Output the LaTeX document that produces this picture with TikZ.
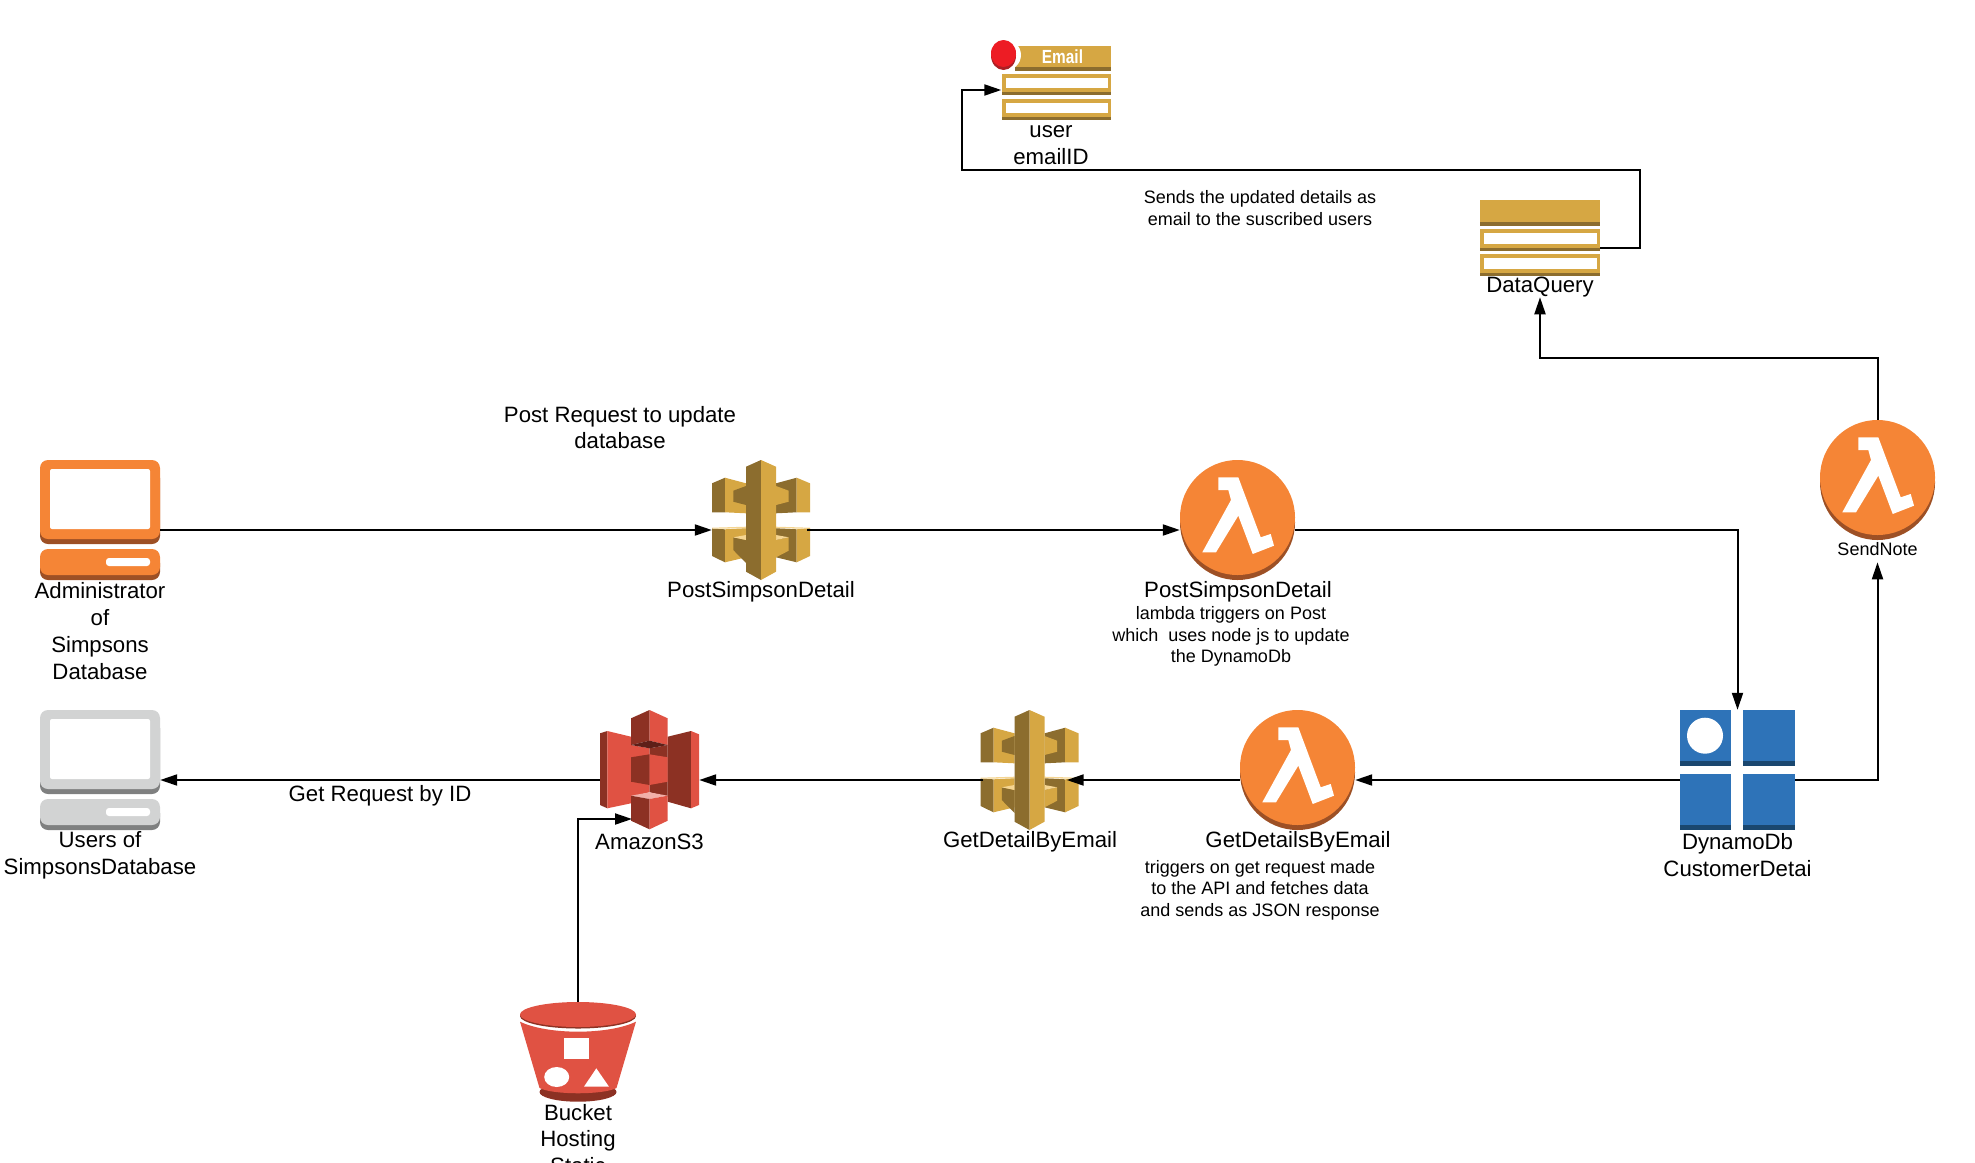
\documentclass[tikz,border=0pt]{standalone}
\usepackage{fontspec}
\setmainfont{Liberation Sans}
\usetikzlibrary{arrows.meta}

\definecolor{pcorange}{HTML}{F58536}
\definecolor{pcorangedark}{HTML}{9D5025}
\definecolor{pcgrey}{HTML}{D2D3D3}
\definecolor{pcgreydark}{HTML}{7F8080}
\definecolor{gold}{HTML}{D6A743}
\definecolor{golddark}{HTML}{8C6D2E}
\definecolor{goldpale}{HTML}{F5D592}
\definecolor{s3light}{HTML}{E05243}
\definecolor{s3dark}{HTML}{8C3123}
\definecolor{s3darker}{HTML}{5E1F18}
\definecolor{s3pale}{HTML}{F2B0A9}
\definecolor{dynamoblue}{HTML}{2E73B8}
\definecolor{dynamodark}{HTML}{1A476F}
\definecolor{dotred}{HTML}{ED1C24}
\definecolor{dotreddark}{HTML}{AD1F24}

\tikzset{
  bigtext/.style={font=\fontsize{22.2}{26.8}\selectfont, align=center, inner sep=0pt},
  smalltext/.style={font=\fontsize{18}{21.5}\selectfont, align=center, inner sep=0pt},
  iconbox/.style={inner sep=0pt, minimum width=#1},
  flowline/.style={line width=2pt, -{Triangle[length=17pt,width=11pt]}},
  pics/pcicon/.style n args={2}{code={
    \fill[#2, rounded corners=8pt] (-60,-50) rectangle (60,24);
    \fill[#1, rounded corners=8pt] (-60,-60) rectangle (60,19);
    \fill[white, rounded corners=2pt] (-50,-51) rectangle (50,9);
    \fill[#2, rounded corners=8pt] (-60,35) rectangle (60,60);
    \fill[#1, rounded corners=8pt] (-60,29) rectangle (60,55);
    \fill[white, rounded corners=3pt] (6,38) rectangle (50,46);
  }},
  pics/lambdaicon/.style={code={
    \fill[pcorangedark] (0,2.5) circle (57.5pt);
    \fill[pcorange] (0,-2.5) circle (57.5pt);
    \fill[white] (-19.2,-42.7) -- (0.8,-42.7) -- (23.2,17.3) -- (33.2,14) -- (36.5,25.7) -- (15.2,34)
      -- (0.8,-4.3) -- (-21.5,32.3) -- (-35.2,32.3) -- (-6.5,-20) -- (-9.2,-30) -- (-19.2,-30) -- cycle;
  }},
  pics/apiicon/.style={code={
    % upper wings
    \fill[golddark] (-49,-36.7) -- (-36,-42.3) -- (-36,-7.7) -- (-49,-7.7) -- cycle;
    \fill[gold] (-36,-42.3) -- (-15,-36.7) -- (-15,-6.7) -- (-36,-7.7) -- cycle;
    \fill[golddark] (-27.7,-29.3) -- (-15,-34) -- (-15,-15) -- (-27.7,-18.3) -- cycle;
    \fill[golddark] (15,-36.7) -- (35.7,-42.3) -- (35.7,-7.7) -- (15,-6.7) -- cycle;
    \fill[gold] (35.7,-42.3) -- (49,-36.7) -- (49,-7.7) -- (35.7,-7.7) -- cycle;
    \fill[gold] (15,-34) -- (27.7,-29.3) -- (27.7,-18.3) -- (15,-15) -- cycle;
    % lower wings
    \fill[goldpale] (-49,7.7) -- (-15,6.7) -- (-15,8.3) -- (-49,8.7) -- cycle;
    \fill[goldpale] (15,6.7) -- (49,7.7) -- (49,8.7) -- (15,8.3) -- cycle;
    \fill[golddark] (-49,8.7) -- (-36,9.3) -- (-36,42.3) -- (-49,36) -- cycle;
    \fill[gold] (-36,9.3) -- (-15,8.3) -- (-15,37.3) -- (-36,42.3) -- cycle;
    \fill[golddark] (-27.7,17.3) -- (-15,20) -- (-15,43) -- (-27.7,30) -- cycle;
    \fill[goldpale] (-27.7,17.3) -- (-15,15) -- (-15,20) -- cycle;
    \fill[golddark] (15,8.3) -- (35.7,9.3) -- (35.7,42.3) -- (15,37.3) -- cycle;
    \fill[gold] (35.7,9.3) -- (49,8.3) -- (49,36) -- (35.7,42.3) -- cycle;
    \fill[gold] (15,20) -- (27.7,17.3) -- (27.7,30.7) -- (15,37.3) -- cycle;
    \fill[goldpale] (15,15) -- (27.7,17.3) -- (15,20) -- cycle;
    % column
    \fill[golddark] (0,-60) -- (-15,-53.3) -- (-15,51.7) -- (0,60) -- cycle;
    \fill[gold] (0,-60) -- (15,-53.3) -- (15,51.7) -- (0,60) -- cycle;
  }},
  pics/sthreeicon/.style={code={
    % wings
    \fill[s3dark] (-49.5,-36.7) -- (-42.2,-39) -- (-42.2,38.3) -- (-49.5,35) -- cycle;
    \fill[s3light] (-42.2,-39) -- (-18.5,-33.3) -- (-18.5,33.3) -- (-42.2,38.3) -- cycle;
    \fill[s3dark] (18.2,-33.3) -- (41.5,-39) -- (41.5,38.3) -- (18.2,31.7) -- cycle;
    \fill[s3light] (41.5,-39) -- (49.5,-35.7) -- (49.5,35) -- (41.5,38.3) -- cycle;
    % middle
    \fill[s3light] (-18.5,-25) -- (0,-21.7) -- (0,22.3) -- (-18.5,26.7) -- cycle;
    \fill[s3dark] (18.2,-25) -- (0,-21.7) -- (0,22.3) -- (18.2,26.7) -- cycle;
    \fill[s3dark] (-18.5,-12.7) -- (0,-15.7) -- (0,15) -- (-18.5,11.7) -- cycle;
    \fill[s3light] (18.2,-12.7) -- (0,-15.7) -- (0,15) -- (18.2,11.7) -- cycle;
    % top cube
    \fill[s3dark] (-18.5,-51.7) -- (0,-60) -- (0,-29.3) -- (-18.5,-25) -- cycle;
    \fill[s3light] (18.2,-51.7) -- (0,-60) -- (0,-29.3) -- (18.2,-25) -- cycle;
    \fill[s3darker] (-18.5,-25) -- (0,-29.3) -- (18.2,-25) -- (0,-21.7) -- cycle;
    % bottom cube
    \fill[s3pale] (-18.5,25.7) -- (0,22.3) -- (18.2,25.7) -- (0,29) -- cycle;
    \fill[s3dark] (-18.5,25.7) -- (0,29) -- (0,59.3) -- (-18.5,50.7) -- cycle;
    \fill[s3light] (18.2,25.7) -- (0,29) -- (0,59.3) -- (18.2,50.7) -- cycle;
  }},
  pics/bucketicon/.style={code={
    \fill[s3dark] (0,40) ellipse (38.5pt and 9.7pt);
    \fill[s3light] (-58,-30.3) -- (-38.5,36) .. controls (-25,43) and (25,43) .. (38.5,36) -- (58,-30.3)
      .. controls (30,-17) and (-30,-17) .. cycle;
    \fill[s3dark] (0,-36) ellipse (58pt and 12.5pt);
    \fill[s3light] (0,-37.5) ellipse (58pt and 12.5pt);
    \fill[white] (-13.7,-13.7) rectangle (11.3,7.3);
    \fill[white] (-21.3,25) ellipse (12.5pt and 10pt);
    \fill[white] (6,34.7) -- (31,34.7) -- (18.3,16.3) -- cycle;
  }}
}

\newcommand{\tablerow}[4]{
  \fill[gold] (#1,#2) rectangle (#3,#4);
  \fill[golddark] (#1,#4-3) rectangle (#3,#4);
  \fill[white] (#1+4,#2+4) rectangle (#3-3,#4-7);
}

\begin{document}
\begin{tikzpicture}[x=1pt, y=-1pt]
\useasboundingbox (0,0) rectangle (1975,1162);

\node[iconbox=120pt, minimum height=120pt] (adminpc) at (100,520) {};
\pic at (adminpc.center) {pcicon={pcorange}{pcorangedark}};
\node[iconbox=120pt, minimum height=120pt] (userspc) at (100,770) {};
\pic at (userspc.center) {pcicon={pcgrey}{pcgreydark}};

\node[iconbox=98pt, minimum height=120pt] (postapi) at (761,520) {};
\pic at (postapi.center) {apiicon};
\node[iconbox=98pt, minimum height=120pt] (getapi) at (1029.5,770) {};
\pic at (getapi.center) {apiicon};

\node[iconbox=115pt, minimum height=120pt] (postlambda) at (1237.5,520) {};
\pic at (postlambda.center) {lambdaicon};
\node[iconbox=115pt, minimum height=120pt] (getlambda) at (1297.5,770) {};
\pic at (getlambda.center) {lambdaicon};
\node[iconbox=115pt, minimum height=120pt] (sendlambda) at (1877.5,480) {};
\pic at (sendlambda.center) {lambdaicon};

\node[iconbox=99pt, minimum height=120pt] (amazons3) at (649.5,770) {};
\pic at (amazons3.center) {sthreeicon};

\node[iconbox=116pt, minimum height=100pt] (bucket) at (578,1052) {};
\pic at (bucket.center) {bucketicon};

% dynamo tables
\node[iconbox=115pt, minimum height=120pt] (dynamotable) at (1737.5,770) {};
\fill[dynamoblue] (1680,710) rectangle (1731,761);
\fill[dynamoblue] (1743,710) rectangle (1795,761);
\fill[dynamodark] (1680,761) rectangle (1731,766);
\fill[dynamodark] (1743,761) rectangle (1795,766);
\fill[dynamoblue] (1680,774) rectangle (1731,825);
\fill[dynamoblue] (1743,774) rectangle (1795,825);
\fill[dynamodark] (1680,825) rectangle (1731,830);
\fill[dynamodark] (1743,825) rectangle (1795,830);
\fill[white] (1705,735.7) circle (18pt);

% query table
\node[iconbox=120pt, minimum height=76pt] (querytable) at (1540,238) {};
\fill[gold] (1480,200) rectangle (1600,226);
\fill[golddark] (1480,222) rectangle (1600,226);
\tablerow{1480}{229}{1600}{251}
\tablerow{1480}{254}{1600}{276}

% email table
\node[iconbox=110pt, minimum height=74pt] (emailtable) at (1056.5,83) {};
\fill[gold] (1015,46) rectangle (1111,71);
\fill[golddark] (1015,67) rectangle (1111,71);
\tablerow{1002}{74}{1111}{95}
\tablerow{1002}{99}{1111}{120}
\fill[white] (1004,55) ellipse (17pt and 16pt);
\fill[dotreddark] (1003.5,55.5) ellipse (12.5pt and 14.5pt);
\fill[dotred] (1003.5,53.5) ellipse (12.5pt and 13.5pt);
\node[text=white, inner sep=0pt, font=\fontsize{19}{22}\selectfont\bfseries] (emailtitle) at (1062.5,56.5) {\scalebox{0.81}[1]{Email}};

\node[bigtext] (adminlabel) at (100,631) {Administrator\\of\\Simpsons\\Database};
\node[bigtext] (userslabel) at (100,855.5) {Users of\\SimpsonsDatabase};
\node[bigtext] (requestlabel) at (620,427.5) {Post Request to update\\database};
\node[bigtext] (postapilabel) at (761,592) {PostSimpsonDetail};
\node[bigtext] (postlambdalabel) at (1238,592) {PostSimpsonDetail};
\node[smalltext] (postnote) at (1231,636.5) {lambda triggers on Post\\which~ uses node js to update\\the DynamoDb};
\node[bigtext] (getrequestlabel) at (380,796) {Get Request by ID};
\node[bigtext] (s3label) at (649.5,842) {AmazonS3};
\node[bigtext] (getapilabel) at (1030,842) {GetDetailByEmail};
\node[bigtext] (getlambdalabel) at (1298,842) {GetDetailsByEmail};
\node[smalltext] (getnote) at (1260,890) {triggers on get request made\\to the API and fetches data\\and sends as JSON response};
\node[bigtext] (dynamolabel) at (1737.5,855) {DynamoDb\\CustomerDetai};
\node[smalltext, inner sep=6.5pt] (sendlabel) at (1877.5,549) {SendNote};
\node[bigtext] (querylabel) at (1540,287) {DataQuery};
\node[bigtext] (emaillabel) at (1051,145.5) {user\\emailID};
\node[smalltext] (sendsnote) at (1260,208) {Sends the updated details as\\email to the suscribed users};
\node[bigtext] (bucketlabel) at (578,1139) {Bucket\\Hosting\\Static};

\draw[flowline] ([yshift=-10pt]adminpc.east) -- ([yshift=-10pt]postapi.west);
\draw[flowline] ([xshift=-3pt,yshift=-10pt]postapi.east) -- ([yshift=-10pt]postlambda.west);
\draw[flowline] ([yshift=-10pt]postlambda.east) -| (dynamotable.north);
\draw[flowline] ([yshift=-10pt]dynamotable.east) -| (sendlabel.south);
\draw[flowline] (sendlambda.north) -- ([yshift=62pt]sendlambda.north) -| (querylabel.south);
\draw[flowline] ([yshift=-10pt]querytable.east) -- ([xshift=40pt,yshift=-10pt]querytable.east)
  |- ([yshift=-24.5pt]emaillabel.center) -- ++(-89,0) |- ([yshift=-7pt]emailtable.west);
\draw[flowline] ([yshift=-10pt]dynamotable.west) -- ([yshift=-10pt]getlambda.east);
\draw[flowline] ([yshift=-10pt]getlambda.west) -- ([xshift=-12pt,yshift=-10pt]getapi.east);
\draw[flowline] ([xshift=3pt,yshift=-10pt]getapi.west) -- ([yshift=-10pt]amazons3.east);
\draw[flowline] ([yshift=-10pt]amazons3.west) -- ([yshift=-10pt]userspc.east);
\draw[flowline] (bucket.north) |- ([xshift=-17.5pt,yshift=-49pt]amazons3.center);
\end{tikzpicture}
\end{document}
